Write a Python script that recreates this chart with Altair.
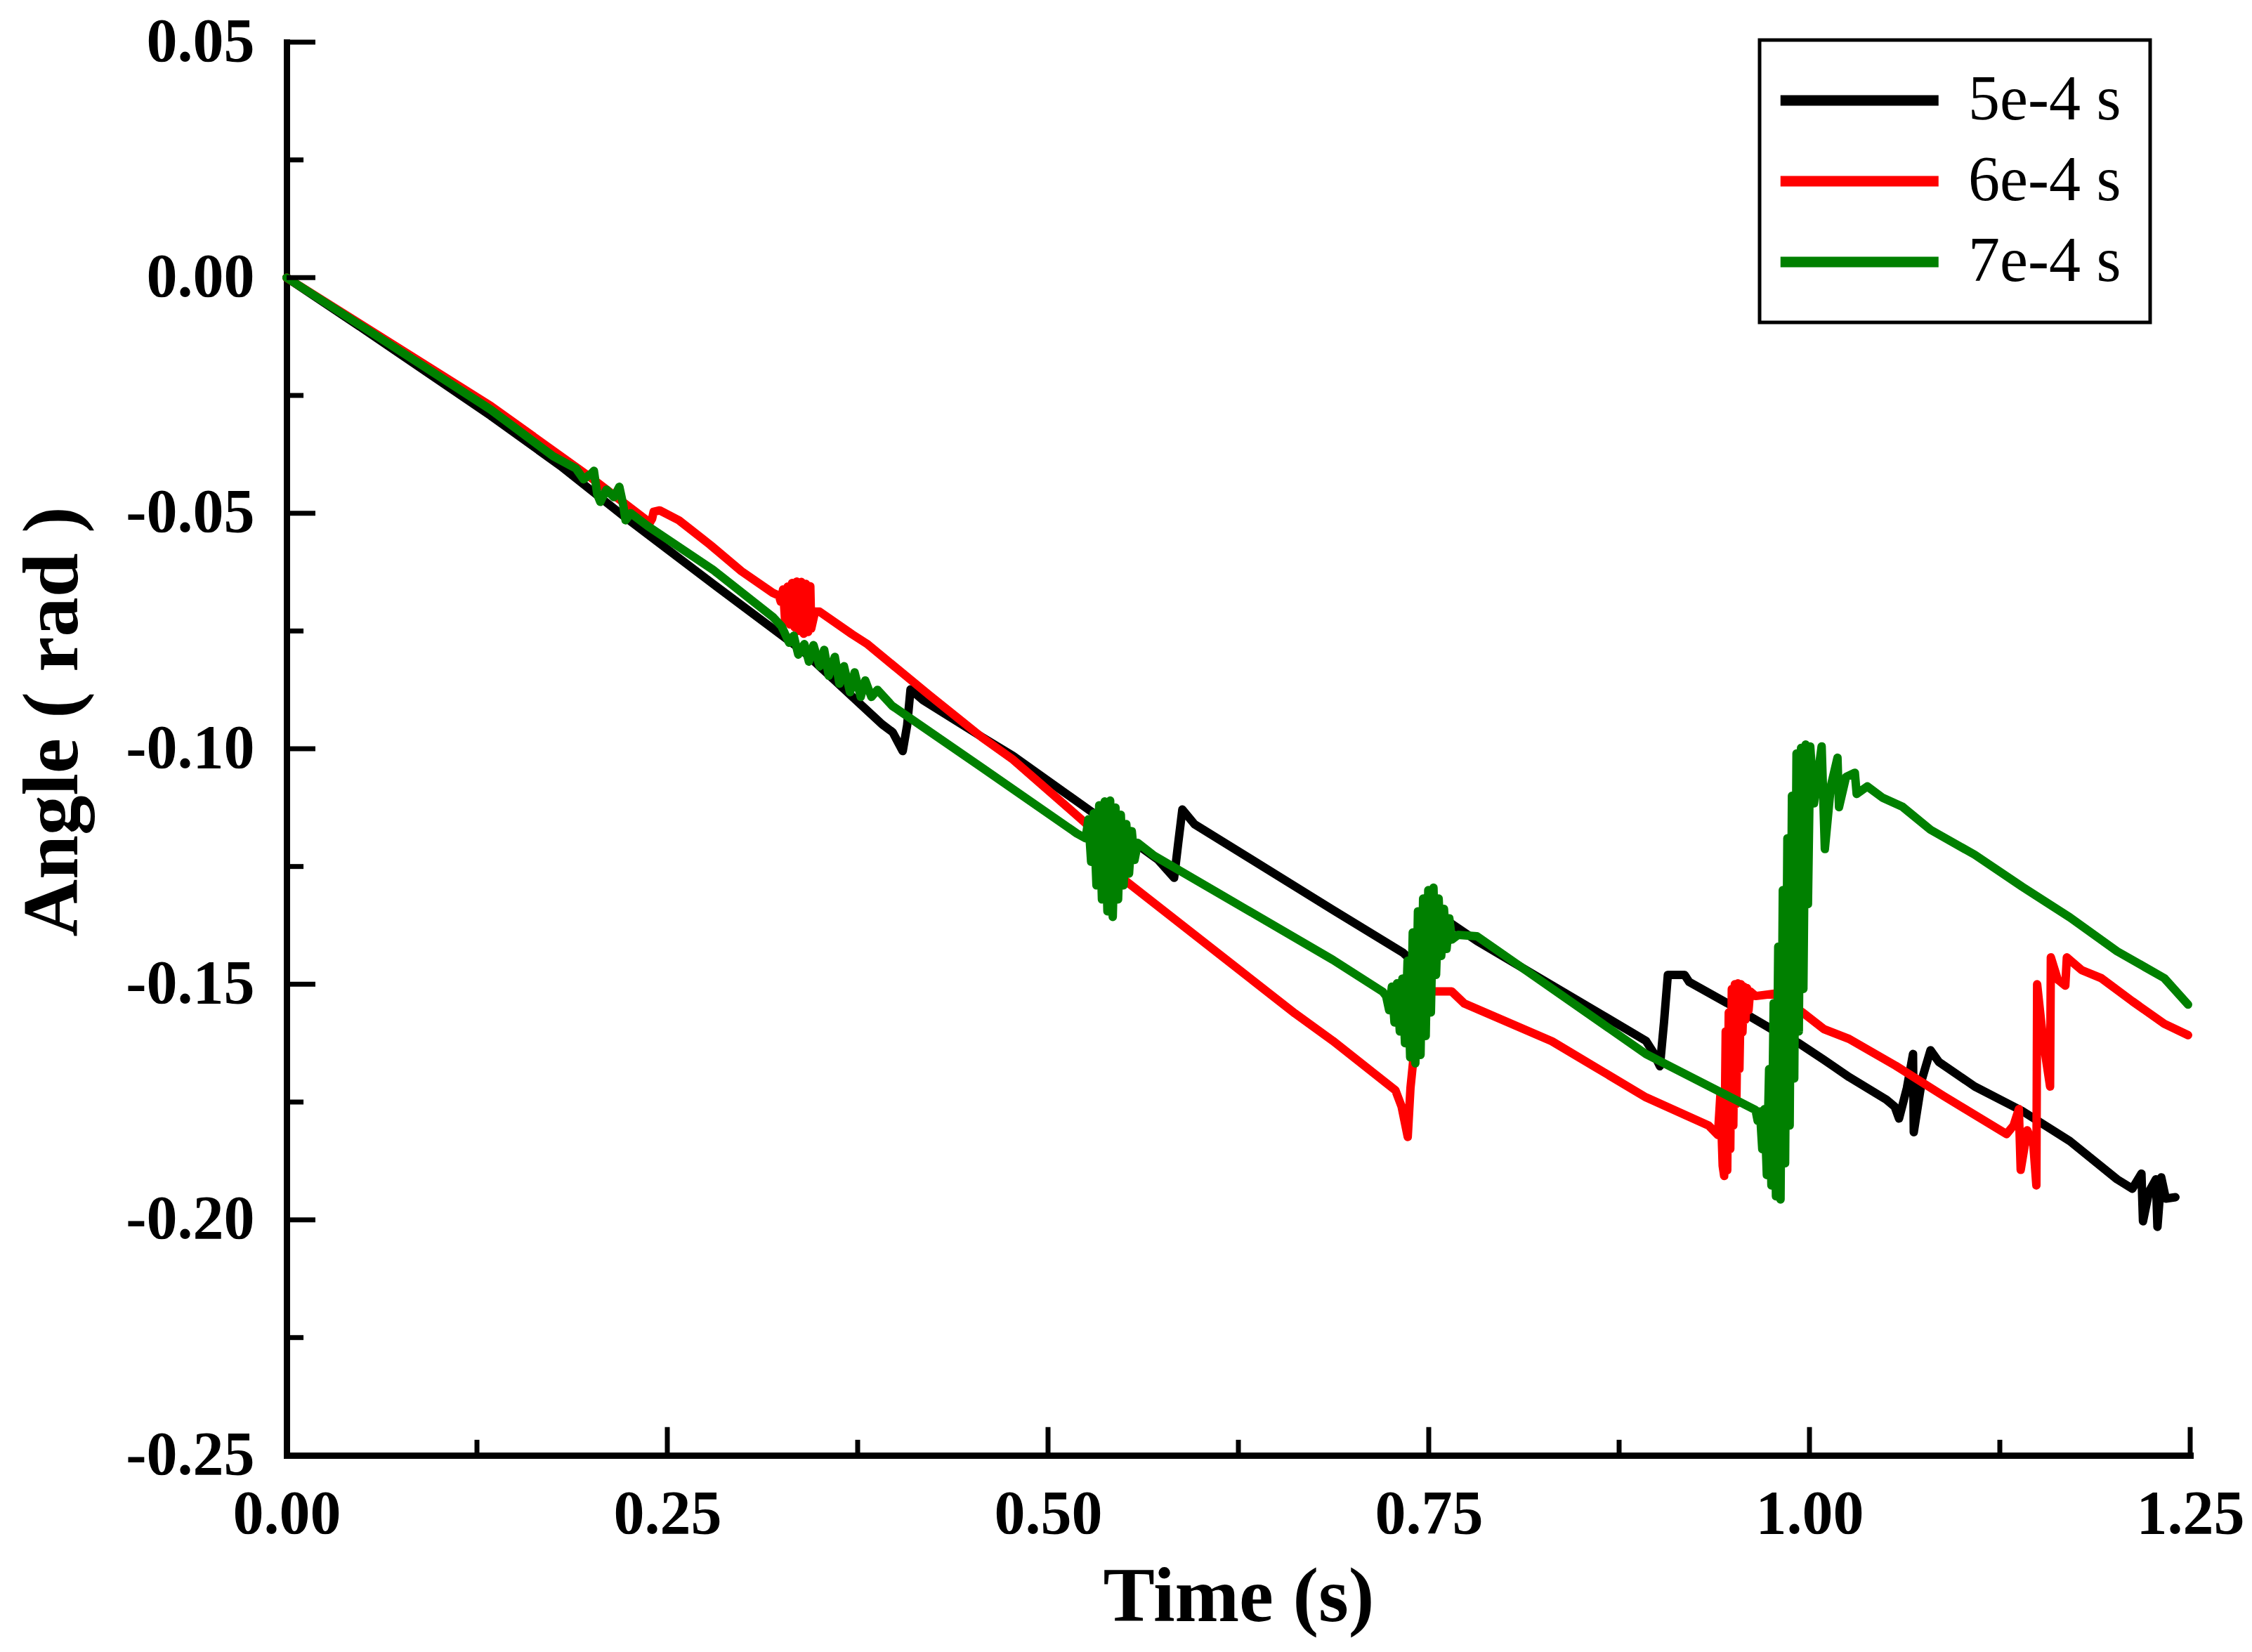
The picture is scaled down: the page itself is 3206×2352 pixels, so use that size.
import altair as alt
import pandas as pd

SERIES = ["5e-4 s", "6e-4 s", "7e-4 s"]
COLORS = ["#000000", "#ff0000", "#008000"]

black_t = [0.000, 0.050, 0.134, 0.180, 0.2205, 0.280, 0.3396, 0.391, 0.398, 0.4046,
           0.4075, 0.4097, 0.418, 0.4566, 0.477, 0.530, 0.572, 0.5828, 0.5855, 0.5882,
           0.5961, 0.687, 0.7331, 0.7405, 0.7445, 0.7480, 0.7530, 0.7816, 0.8926, 0.8975,
           0.9018, 0.9045, 0.9070, 0.9180, 0.9210, 0.946, 0.975, 0.9925, 1.0094, 1.026,
           1.0505, 1.0560, 1.0588, 1.0640, 1.0680, 1.0685, 1.0740, 1.0795, 1.0850, 1.1085,
           1.1397, 1.171, 1.202, 1.212, 1.2180, 1.2190, 1.2230, 1.2275, 1.2285, 1.2310,
           1.2340, 1.2403]
black_a = [0.000, -0.0108, -0.0293, -0.0400, -0.0504, -0.0650, -0.0794, -0.0948, -0.0965, -0.1005,
           -0.0950, -0.0874, -0.0897, -0.0975, -0.1015, -0.1137, -0.1235, -0.1274, -0.1200, -0.1129,
           -0.1160, -0.1342, -0.1433, -0.1455, -0.1470, -0.1360, -0.1345, -0.1408, -0.1620, -0.1645,
           -0.1674, -0.1580, -0.1480, -0.1480, -0.1495, -0.1540, -0.1595, -0.1624, -0.1660, -0.1697,
           -0.1745, -0.1760, -0.1785, -0.1720, -0.1648, -0.1814, -0.1700, -0.1640, -0.1665, -0.1717,
           -0.1769, -0.1833, -0.1914, -0.1934, -0.1902, -0.2003, -0.1940, -0.1914, -0.2015, -0.1910,
           -0.1955, -0.1952]

red_t = [0.000, 0.134, 0.200, 0.2385, 0.2400, 0.2410, 0.2450, 0.2576, 0.2781, 0.2986,
         0.3192, 0.3233, 0.3245, 0.3260, 0.3274, 0.3290, 0.3305, 0.3320, 0.3336, 0.3350,
         0.3366, 0.3380, 0.3396, 0.3410, 0.3425, 0.3439, 0.3445, 0.3470, 0.3500, 0.3713,
         0.381, 0.422, 0.4566, 0.477, 0.5247, 0.5484, 0.6622, 0.687, 0.7281, 0.7322,
         0.7362, 0.7380, 0.7405, 0.7450, 0.7490, 0.7650, 0.7734, 0.8309, 0.8926, 0.9338,
         0.9399, 0.9415, 0.9430, 0.9440, 0.9450, 0.9460, 0.9470, 0.9480, 0.9490, 0.9500,
         0.9510, 0.9520, 0.9530, 0.9540, 0.9550, 0.9560, 0.9570, 0.9580, 0.9590, 0.9600,
         0.9610, 0.9646, 0.9770, 0.9955, 1.0094, 1.0260, 1.0567, 1.0880, 1.1294, 1.1340,
         1.1375, 1.1387, 1.1430, 1.1470, 1.1490, 1.1495, 1.1535, 1.1580, 1.1585, 1.1630,
         1.1680, 1.1690, 1.1788, 1.1916, 1.2120, 1.2330, 1.2486]
red_a = [0.000, -0.0272, -0.0425, -0.0520, -0.0512, -0.0497, -0.0494, -0.0515, -0.0567, -0.0623,
         -0.0669, -0.0675, -0.0688, -0.0662, -0.0730, -0.0656, -0.0736, -0.0648, -0.0742, -0.0645,
         -0.0750, -0.0646, -0.0756, -0.0650, -0.0752, -0.0655, -0.0745, -0.0709, -0.0709, -0.0757,
         -0.0777, -0.0886, -0.0976, -0.1023, -0.1158, -0.1274, -0.1562, -0.1620, -0.1725, -0.1760,
         -0.1824, -0.1720, -0.1640, -0.1550, -0.1515, -0.1515, -0.1541, -0.1621, -0.1740, -0.1800,
         -0.1820, -0.1735, -0.1885, -0.1907, -0.1600, -0.1895, -0.1560, -0.1850, -0.1510, -0.1800,
         -0.1500, -0.1754, -0.1498, -0.1680, -0.1500, -0.1602, -0.1505, -0.1575, -0.1508, -0.1555,
         -0.1515, -0.1525, -0.1520, -0.1560, -0.1595, -0.1616, -0.1673, -0.1737, -0.1818, -0.1800,
         -0.1765, -0.1894, -0.1810, -0.1840, -0.1927, -0.1500, -0.1620, -0.1717, -0.1443, -0.1490,
         -0.1503, -0.1443, -0.1470, -0.1487, -0.1536, -0.1584, -0.1608]

green_t = [0.000, 0.134, 0.175, 0.1900, 0.1950, 0.2000, 0.2018, 0.2040, 0.2060, 0.2100,
           0.2150, 0.2185, 0.2210, 0.2226, 0.2260, 0.2370, 0.2800, 0.3192, 0.3250, 0.3300,
           0.3330, 0.3360, 0.3400, 0.3430, 0.3460, 0.3500, 0.3530, 0.3560, 0.3600, 0.3630,
           0.3660, 0.3700, 0.3730, 0.3770, 0.3800, 0.3840, 0.3880, 0.3977, 0.4566, 0.5190,
           0.5247, 0.5265, 0.5283, 0.5300, 0.5318, 0.5336, 0.5354, 0.5372, 0.5390, 0.5408,
           0.5425, 0.5443, 0.5460, 0.5478, 0.5496, 0.5514, 0.5532, 0.5550, 0.5568, 0.5590,
           0.5696, 0.6870, 0.7198, 0.7220, 0.7240, 0.7258, 0.7275, 0.7292, 0.7310, 0.7327,
           0.7344, 0.7361, 0.7378, 0.7395, 0.7412, 0.7429, 0.7446, 0.7463, 0.7480, 0.7497,
           0.7514, 0.7531, 0.7548, 0.7565, 0.7582, 0.7600, 0.7617, 0.7635, 0.7652, 0.7693,
           0.7816, 0.8926, 0.9646, 0.9660, 0.9675, 0.9690, 0.9705, 0.9720, 0.9735, 0.9750,
           0.9765, 0.9780, 0.9795, 0.9810, 0.9825, 0.9840, 0.9855, 0.9870, 0.9885, 0.9900,
           0.9915, 0.9930, 0.9945, 0.9960, 0.9975, 0.9990, 1.0005, 1.0030, 1.0080, 1.0101,
           1.0140, 1.0184, 1.0194, 1.0240, 1.0298, 1.0310, 1.0380, 1.0480, 1.0610, 1.0795,
           1.1085, 1.1397, 1.1710, 1.2020, 1.2330, 1.2486]
green_a = [0.000, -0.0280, -0.0379, -0.0405, -0.0428, -0.0416, -0.0410, -0.0460, -0.0476, -0.0450,
           -0.0466, -0.0444, -0.0482, -0.0515, -0.0500, -0.0527, -0.0620, -0.0720, -0.0740, -0.0775,
           -0.0760, -0.0800, -0.0778, -0.0815, -0.0780, -0.0825, -0.0790, -0.0845, -0.0805, -0.0862,
           -0.0825, -0.0880, -0.0838, -0.0890, -0.0855, -0.0890, -0.0875, -0.0909, -0.1040, -0.1180,
           -0.1190, -0.1150, -0.1240, -0.1137, -0.1290, -0.1120, -0.1320, -0.1112, -0.1345, -0.1110,
           -0.1357, -0.1125, -0.1320, -0.1140, -0.1290, -0.1160, -0.1265, -0.1175, -0.1236, -0.1200,
           -0.1227, -0.1448, -0.1516, -0.1525, -0.1555, -0.1505, -0.1581, -0.1498, -0.1600, -0.1488,
           -0.1625, -0.1450, -0.1655, -0.1390, -0.1668, -0.1345, -0.1650, -0.1318, -0.1610, -0.1300,
           -0.1560, -0.1295, -0.1480, -0.1318, -0.1440, -0.1340, -0.1425, -0.1360, -0.1405, -0.1395,
           -0.1398, -0.1648, -0.1767, -0.1790, -0.1770, -0.1850, -0.1765, -0.1905, -0.1680, -0.1927,
           -0.1540, -0.1950, -0.1420, -0.1957, -0.1300, -0.1880, -0.1190, -0.1800, -0.1100, -0.1700,
           -0.1010, -0.1600, -0.0998, -0.1510, -0.0991, -0.1330, -0.0995, -0.1116, -0.0995, -0.1213,
           -0.1080, -0.1019, -0.1124, -0.1060, -0.1051, -0.1096, -0.1080, -0.1104, -0.1123, -0.1172,
           -0.1225, -0.1293, -0.1358, -0.1430, -0.1487, -0.1543]

X_TICKS = [0.0, 0.25, 0.5, 0.75, 1.0, 1.25]
X_MINOR = [0.125, 0.375, 0.625, 0.875, 1.125]
Y_TICKS = [0.05, 0.0, -0.05, -0.10, -0.15, -0.20, -0.25]
Y_MINOR = [0.025, -0.025, -0.075, -0.125, -0.175, -0.225]

X_DOMAIN = [0.0, 1.25]
Y_DOMAIN = [-0.25, 0.05]

# inward tick lengths, in data units
Y_MAJOR_LEN = 0.0189
Y_MINOR_LEN = 0.0111
X_MAJOR_LEN = 0.0060
X_MINOR_LEN = 0.0033

FONT = "Liberation Serif"

rows = []
for name, ts, vs in zip(SERIES, [black_t, red_t, green_t], [black_a, red_a, green_a]):
    for i, (t, v) in enumerate(zip(ts, vs)):
        rows.append({"t": t, "a": v, "series": name, "idx": i})
lines_df = pd.DataFrame(rows)

label_expr = "replace(format(datum.value, '.2f'), '\u2212', '-')"

xs = alt.Scale(domain=X_DOMAIN, nice=False, zero=False)
ys = alt.Scale(domain=Y_DOMAIN, nice=False, zero=False)
xaxis = alt.Axis(title="Time (s)", values=X_TICKS, labelExpr=label_expr, ticks=False, grid=False,
                 labelPadding=40, titlePadding=20, labelFlush=False, labelLimit=1000,
                 labelOverlap=False)
yaxis = alt.Axis(title="Angle ( rad )", values=Y_TICKS, labelExpr=label_expr, ticks=False, grid=False,
                 labelPadding=46, titlePadding=75, titleY=967, titleFontSize=113,
                 labelFlush=False, labelLimit=1000, labelOverlap=False)

X = lambda f: alt.X(f, scale=xs, axis=xaxis)
Y = lambda f: alt.Y(f, scale=ys, axis=yaxis)

lines = alt.Chart(lines_df).mark_line(strokeWidth=12, strokeJoin="round", strokeCap="round").encode(
    x=X("t:Q"),
    y=Y("a:Q"),
    order="idx:Q",
    color=alt.Color(
        "series:N",
        scale=alt.Scale(domain=SERIES, range=COLORS),
        legend=alt.Legend(
            title=None, orient="none", legendX=2097, legendY=-3,
            symbolType="M-2,0H6", symbolSize=3164, symbolStrokeWidth=15,
            labelFont=FONT, labelFontSize=90, labelFontWeight="normal", labelColor="black",
            labelOffset=166, labelLimit=2000, padding=41, rowPadding=25,
            strokeColor="black",
        ),
    ),
)

ymaj = pd.DataFrame({"a": Y_TICKS, "t": [0.0] * len(Y_TICKS), "t2": [Y_MAJOR_LEN] * len(Y_TICKS)})
ymin = pd.DataFrame({"a": Y_MINOR, "t": [0.0] * len(Y_MINOR), "t2": [Y_MINOR_LEN] * len(Y_MINOR)})
xmaj = pd.DataFrame({"t": X_TICKS, "a": [Y_DOMAIN[0]] * len(X_TICKS),
                     "a2": [Y_DOMAIN[0] + X_MAJOR_LEN] * len(X_TICKS)})
xmin = pd.DataFrame({"t": X_MINOR, "a": [Y_DOMAIN[0]] * len(X_MINOR),
                     "a2": [Y_DOMAIN[0] + X_MINOR_LEN] * len(X_MINOR)})

def yticks(df):
    return alt.Chart(df).mark_rule(strokeWidth=7, color="black").encode(
        x=X("t:Q"), x2="t2:Q", y=Y("a:Q"))

def xticks(df):
    return alt.Chart(df).mark_rule(strokeWidth=7, color="black").encode(
        x=X("t:Q"), y=Y("a:Q"), y2="a2:Q")

chart = alt.layer(lines, yticks(ymaj), yticks(ymin), xticks(xmaj), xticks(xmin)).properties(
    width=2710, height=2012,
    padding={"left": 400, "top": 52, "right": 80, "bottom": 268},
    autosize=alt.AutoSizeParams(type="none"),
    background="white",
).configure(font=FONT).configure_view(stroke=None).configure_axis(
    labelFont=FONT, labelFontWeight="bold", labelFontSize=88, labelColor="black",
    titleFont=FONT, titleFontWeight="bold", titleFontSize=110, titleColor="black",
    domainColor="black", domainWidth=9, domainCap="square",
).configure_legend(strokeWidth=5)

chart.save("out.html", embed_options={"renderer": "svg", "actions": False})
